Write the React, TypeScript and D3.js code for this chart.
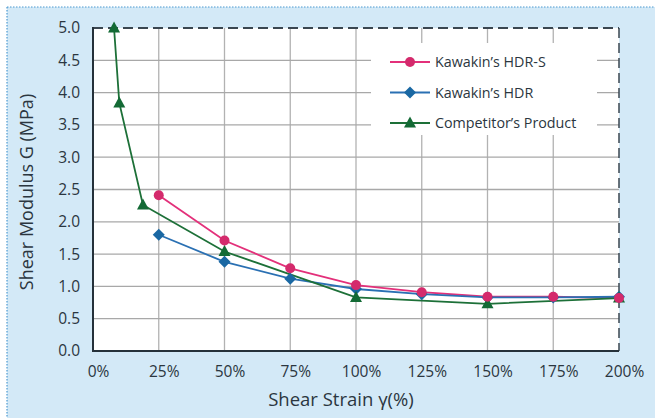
import React from "react";
import * as d3 from "d3";

const strainHdrS = [25, 50, 75, 100, 125, 150, 175, 200];
const modulusHdrS = [2.41, 1.71, 1.28, 1.02, 0.91, 0.84, 0.84, 0.82];
const strainHdr = [25, 50, 75, 100, 125, 150, 175, 200];
const modulusHdr = [1.8, 1.38, 1.12, 0.96, 0.88, 0.83, 0.83, 0.84];
const strainComp = [8, 10, 19, 50, 100, 150, 200];
const modulusComp = [5.0, 3.84, 2.26, 1.54, 0.83, 0.73, 0.82];
const xTicks = [0, 25, 50, 75, 100, 125, 150, 175, 200];
const yTicks = [0, 0.5, 1, 1.5, 2, 2.5, 3, 3.5, 4, 4.5, 5];
const seriesNames = ["Kawakin’s HDR-S", "Kawakin’s HDR", "Competitor’s Product"];

const W = 655, H = 418;
const L = 93, R = 619, T = 28, B = 351;
const FONT = "'Open Sans', 'Noto Sans', sans-serif";
const TEXT = "#2b3640";

export default function App() {
  const x = d3.scaleLinear().domain([0, 200]).range([L, R]);
  const y = d3.scaleLinear().domain([0, 5]).range([B, T]);
  const line = d3.line<[number, number]>().x(d => x(d[0])).y(d => y(d[1]));

  const series = [
    { name: seriesNames[0], xs: strainHdrS, ys: modulusHdrS, line: "#e3307a", fill: "#d42a6c", shape: "circle" },
    { name: seriesNames[1], xs: strainHdr, ys: modulusHdr, line: "#2a70b3", fill: "#1a68a3", shape: "diamond" },
    { name: seriesNames[2], xs: strainComp, ys: modulusComp, line: "#1d7038", fill: "#136a35", shape: "triangle" },
  ];

  const marker = (shape: string, cx: number, cy: number, fill: string, key: any) => {
    if (shape === "circle") return <circle key={key} cx={cx} cy={cy} r={5} fill={fill} />;
    if (shape === "diamond") return <path key={key} d={`M${cx},${cy - 6}L${cx + 6},${cy}L${cx},${cy + 6}L${cx - 6},${cy}Z`} fill={fill} />;
    return <path key={key} d={`M${cx},${cy - 6.5}L${cx + 6},${cy + 4.5}L${cx - 6},${cy + 4.5}Z`} fill={fill} />;
  };

  const legX = 371, legY = 43, legW = 226, legH = 92;

  return (
    <svg width={W} height={H} style={{ position: "absolute", left: 0, top: 0 }} fontFamily={FONT}>
      <rect x={0} y={0} width={W} height={H} fill="#ffffff" />
      <rect x={7} y={7} width={W} height={H} fill="#d3e9f7" />
      <line x1={7} y1={7} x2={W} y2={7} stroke="#4d9ad0" strokeWidth={1} strokeDasharray="1.5,1.5" />
      <line x1={7} y1={7} x2={7} y2={H} stroke="#4d9ad0" strokeWidth={1.2} strokeDasharray="1.5,1.5" />
      <rect x={L} y={T} width={R - L} height={B - T} fill="#ffffff" />
      {xTicks.slice(1, -1).map(t => (
        <line key={"gx" + t} x1={x(t)} x2={x(t)} y1={T} y2={B} stroke="#b2b2b2" strokeWidth={1.3} />
      ))}
      {yTicks.slice(1, -1).map(t => (
        <line key={"gy" + t} x1={L} x2={R} y1={y(t)} y2={y(t)} stroke="#a8a8a8" strokeWidth={1.3} />
      ))}
      <rect x={legX} y={legY} width={legW} height={legH} fill="#ffffff" />
      <line x1={L} y1={T} x2={R} y2={T} stroke="#3a4650" strokeWidth={2} strokeDasharray="10,5" />
      <line x1={R} y1={T} x2={R} y2={B} stroke="#3a4650" strokeWidth={1.5} strokeDasharray="10,5" />
      <line x1={L} y1={T - 1} x2={L} y2={B} stroke="#25313a" strokeWidth={2} />
      <line x1={L - 1} y1={B} x2={R} y2={B} stroke="#25313a" strokeWidth={2} />
      {series.map((s, i) => {
        const pts = s.xs.map((v, j) => [v, s.ys[j]] as [number, number]);
        return (
          <g key={"s" + i}>
            <path d={line(pts) || ""} fill="none" stroke={s.line} strokeWidth={1.8} />
          </g>
        );
      })}
      {[1, 2, 0].map(i => {
        const s = series[i];
        return (
          <g key={"m" + i}>
            {s.xs.map((v, j) => marker(s.shape, x(v), y(s.ys[j]), s.fill, j))}
          </g>
        );
      })}
      {yTicks.map(t => (
        <text key={"ty" + t} x={80} y={y(t)} dy="0.35em" textAnchor="end" fontSize={15.5} fill={TEXT}>
          {t.toFixed(1)}
        </text>
      ))}
      {xTicks.map(t => (
        <text key={"tx" + t} x={x(t) + 5.5} y={372} dy="0.35em" textAnchor="middle" fontSize={15.5} fill={TEXT}>
          {t + "%"}
        </text>
      ))}
      <text x={341} y={400} dy="0.35em" textAnchor="middle" fontSize={18.5} fill={TEXT}>Shear Strain γ(%)</text>
      <text transform={`translate(27,192) rotate(-90)`} dy="0.35em" textAnchor="middle" fontSize={18} fill={TEXT}>
        Shear Modulus G (MPa)
      </text>
      {series.map((s, i) => {
        const ly = 62 + i * 30.5;
        return (
          <g key={"lg" + i}>
            <line x1={390} x2={430} y1={ly} y2={ly} stroke={s.line} strokeWidth={2} />
            {marker(s.shape, 410, ly, s.fill, "lm" + i)}
            <text x={435} y={ly} dy="0.35em" fontSize={14.3} fill={TEXT}>{s.name}</text>
          </g>
        );
      })}
    </svg>
  );
}
